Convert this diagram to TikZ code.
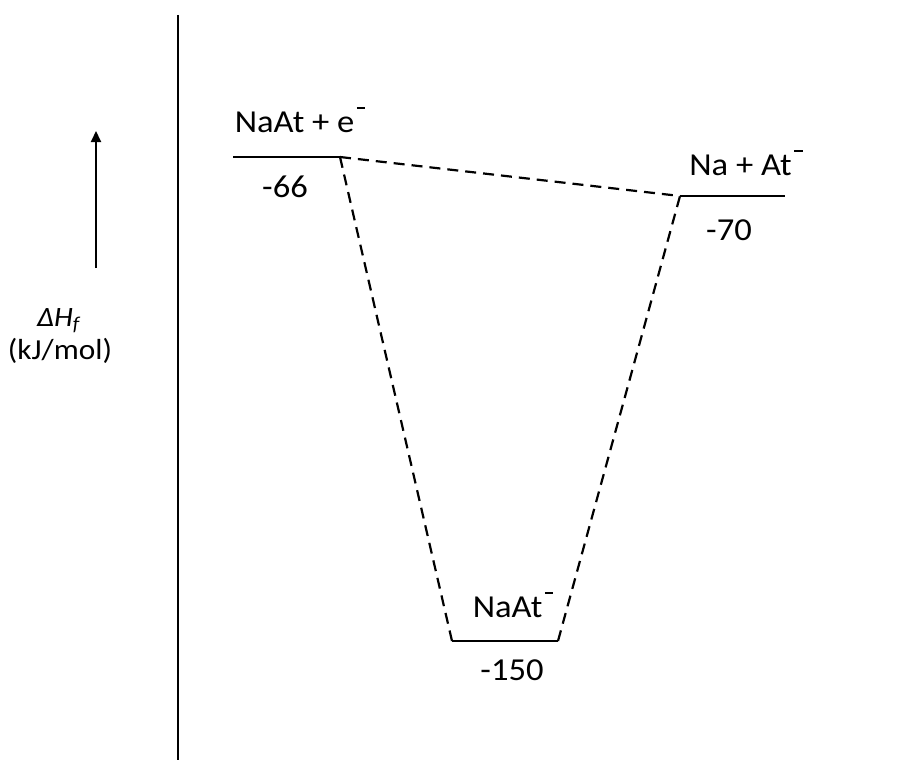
\documentclass[tikz,border=0pt]{standalone}
\usepackage{fontspec}
\setmainfont{Carlito}[FakeStretch=1.08]
\usetikzlibrary{arrows.meta}
\newcommand{\supm}{\hspace{0.08em}\raisebox{0.71em}{\rule{0.26em}{0.07em}}}
\begin{document}
\begin{tikzpicture}[x=1pt,y=-1pt,
  lvl/.style={line width=2.4pt},
  conn/.style={line width=2.2pt,dash pattern=on 11pt off 7pt},
  lab/.style={font=\fontsize{32}{36}\selectfont,anchor=base,inner sep=0pt},
  axlab/.style={font=\fontsize{29}{34}\selectfont,anchor=base,inner sep=0pt}]
\useasboundingbox (0,0) rectangle (912,760);
% axis
\coordinate (axtop) at (178,15);
\coordinate (axbot) at (178,760);
\draw[line width=2.4pt] (axtop) -- (axbot);
% arrow
\coordinate (arb) at (96,268);
\coordinate (art) at (96,131);
\draw[line width=2pt,-{Triangle[length=11pt,width=10pt]}] (arb) -- (art);
\node[axlab,font=\fontsize{28}{30}\selectfont] (dh) at (59,326) {\textit{ΔH}\textsubscript{\textit{f}}};
\node[axlab] (units) at (60,359) {(kJ/mol)};
% levels
\coordinate (a1) at (233,157); \coordinate (a2) at (340,157);
\coordinate (b1) at (680,196); \coordinate (b2) at (785,196);
\coordinate (c1) at (452,641); \coordinate (c2) at (558,641);
\draw[lvl] (a1) -- (a2);
\draw[lvl] (b1) -- (b2);
\draw[lvl] (c1) -- (c2);
% connectors
\draw[conn] (a2) -- (b1);
\draw[conn] (a2) -- (c1);
\draw[conn] (c2) -- (b1);
% labels
\node[lab] (la) at (300,132) {NaAt + e\supm};
\node[lab] (va) at (285,197) {-66};
\node[lab] (lb) at (746,175) {Na + At\supm};
\node[lab] (vb) at (729,240) {-70};
\node[lab] (lc) at (513,617) {NaAt\supm};
\node[lab] (vc) at (512,680) {-150};
\end{tikzpicture}
\end{document}
